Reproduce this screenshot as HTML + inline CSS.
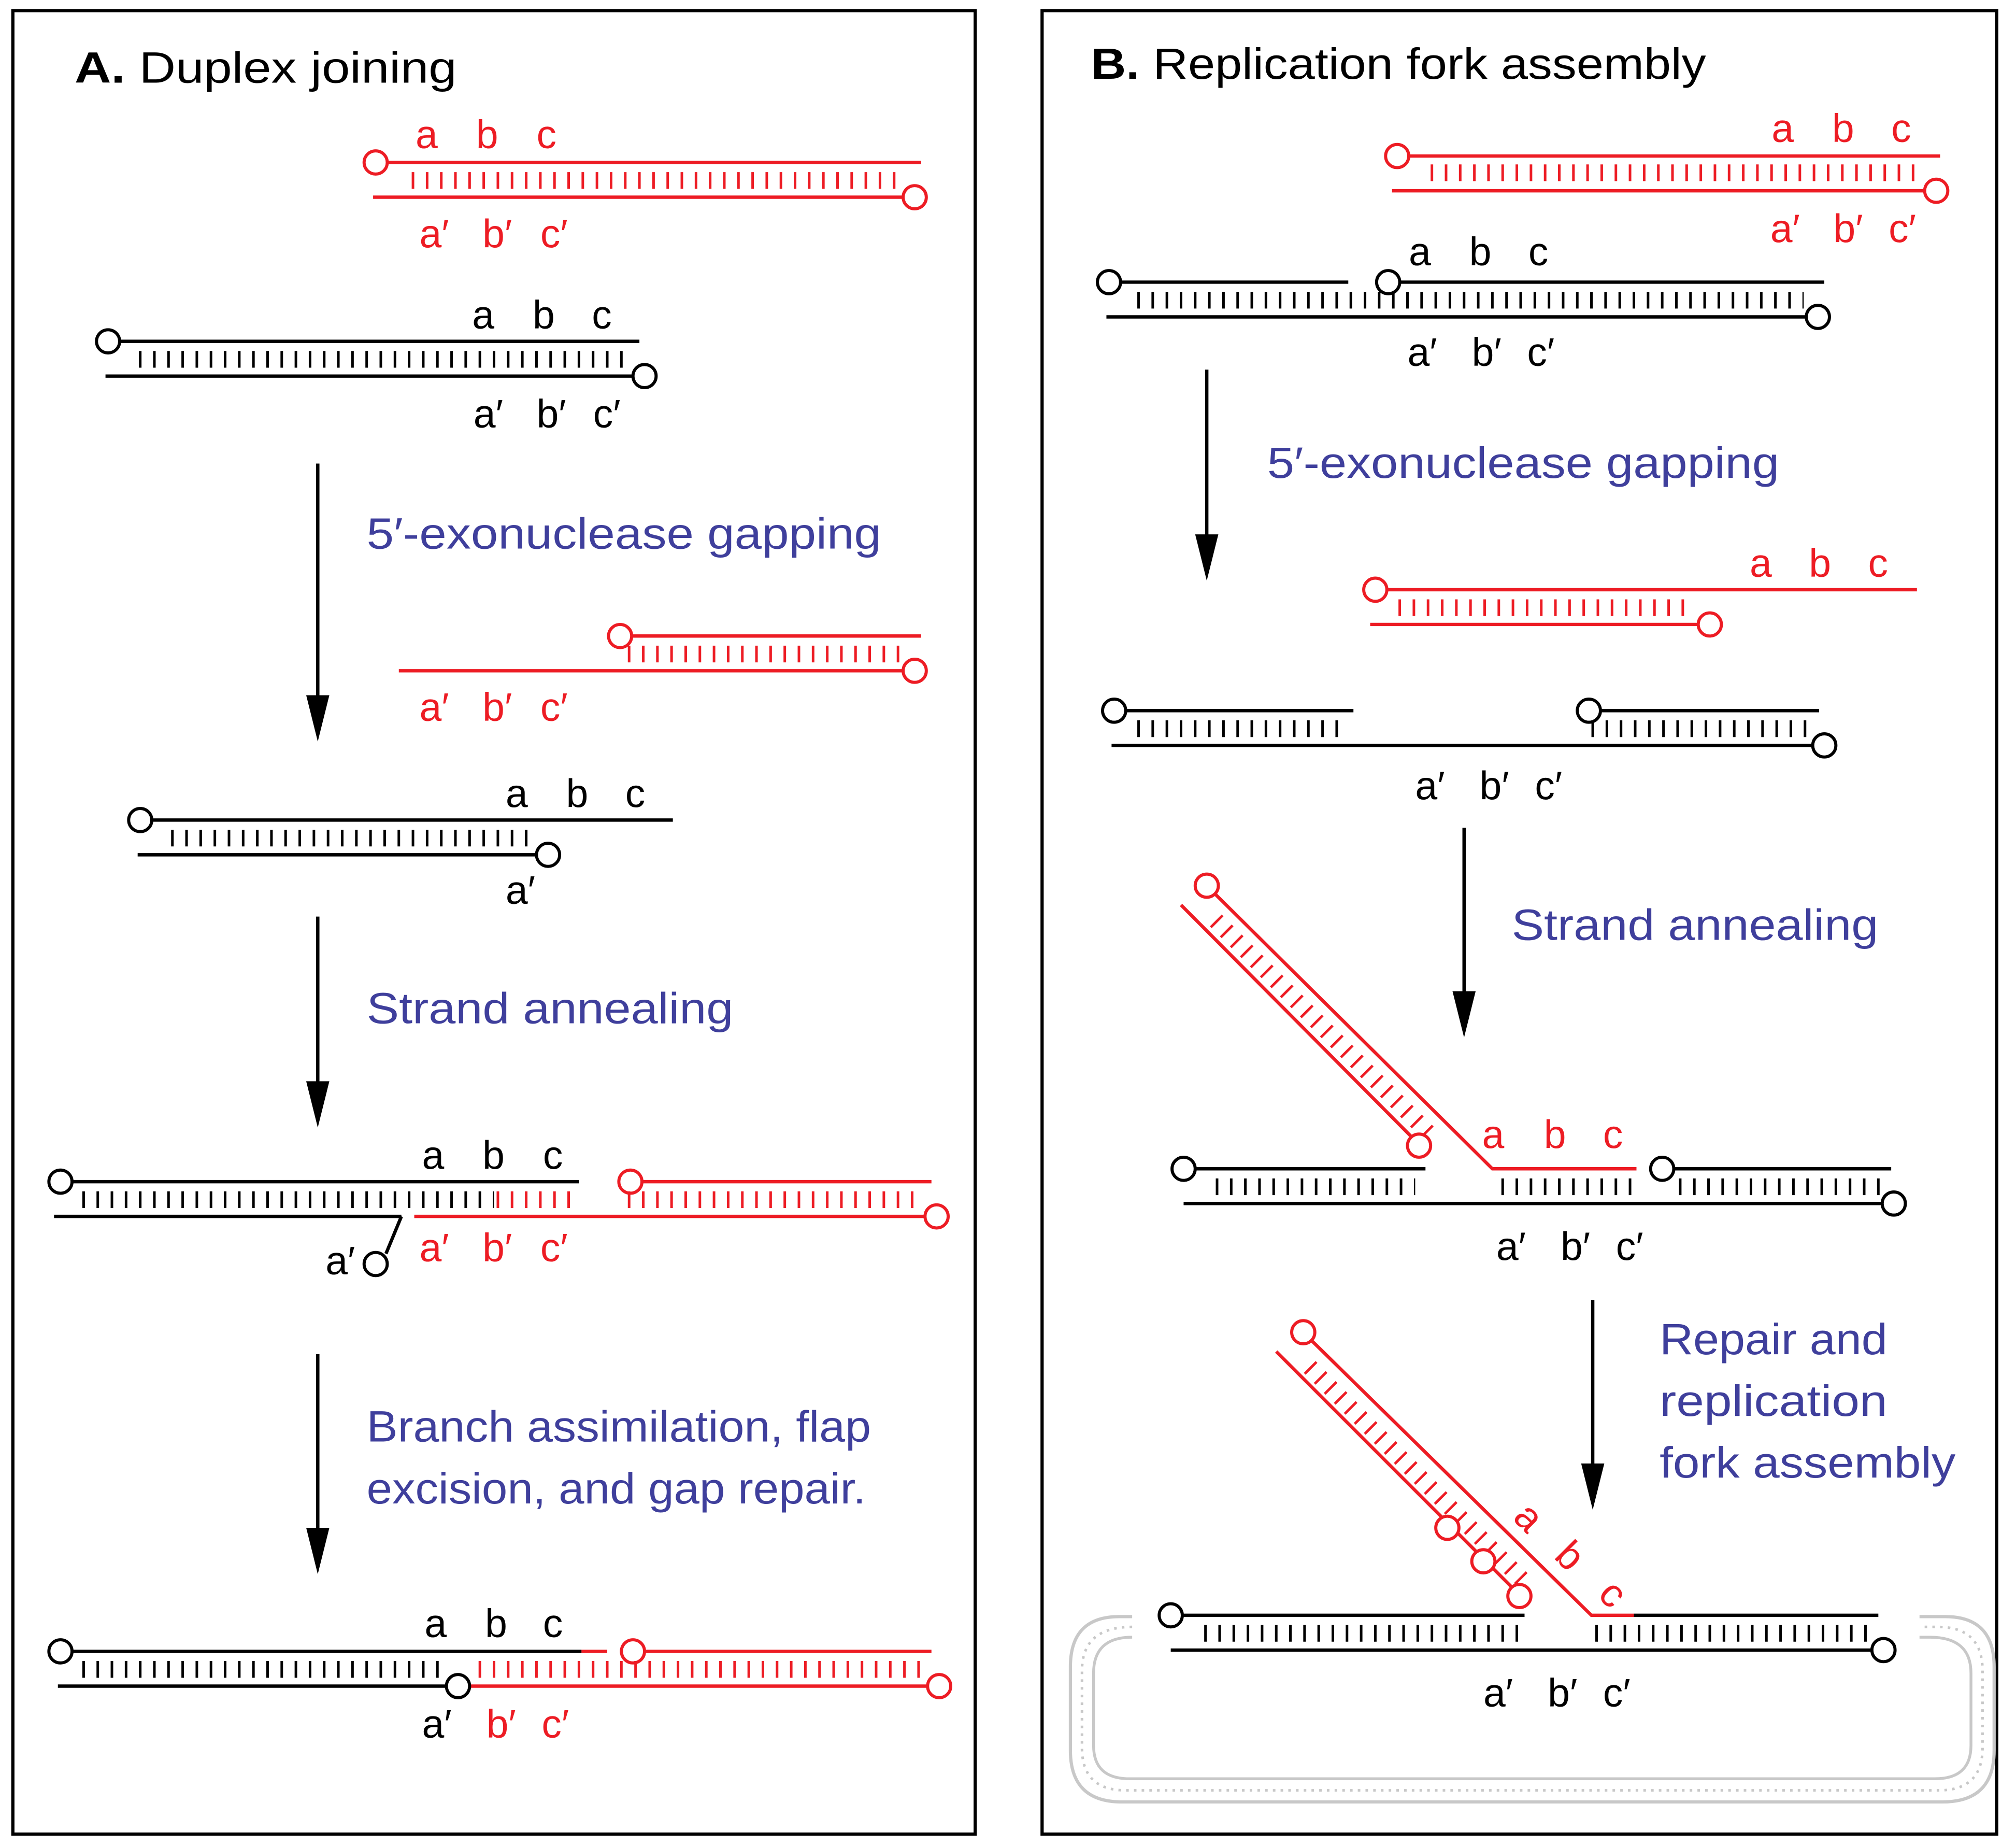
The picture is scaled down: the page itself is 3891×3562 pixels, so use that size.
<!DOCTYPE html>
<html><head><meta charset="utf-8"><style>
html,body{margin:0;padding:0;background:#fff;}
svg{display:block}
text{font-family:"Liberation Sans",sans-serif;}
.r{stroke:#ed1c24;fill:none;stroke-width:2.6}
.k{stroke:#000;fill:none;stroke-width:2.6}
.rc{stroke:#ed1c24;fill:#fff;stroke-width:2.4}
.kc{stroke:#000;fill:#fff;stroke-width:2.4}
.tr{stroke:#ed1c24;stroke-width:13;stroke-dasharray:2 9;fill:none}
.tk{stroke:#000;stroke-width:13;stroke-dasharray:2 9;fill:none}
.lr{fill:#ed1c24;font-size:31px}
.lk{fill:#000;font-size:31px}
.bl{fill:#3f3f9c;font-size:34px}
</style></head><body>
<svg width="3891" height="3562" viewBox="0 0 1567 1434" xmlns="http://www.w3.org/2000/svg">
<rect x="0" y="0" width="1567" height="1434" fill="#fff"/>
<rect x="10" y="8" width="748" height="1417" fill="none" stroke="#000" stroke-width="2.5"/>
<rect x="810" y="8" width="742" height="1417" fill="none" stroke="#000" stroke-width="2.5"/>

<!-- PANEL A -->
<text x="58" y="64" font-size="34" textLength="297" lengthAdjust="spacingAndGlyphs"><tspan font-weight="bold">A.</tspan> Duplex joining</text>

<line class="r" x1="300" y1="126" x2="716" y2="126"/>
<line class="r" x1="290" y1="153" x2="702" y2="153"/>
<line class="tr" x1="320" y1="140" x2="700" y2="140"/>
<circle class="rc" cx="292" cy="126" r="9"/><circle class="rc" cx="711" cy="153" r="9"/>
<text class="lr" x="323" y="115">a</text><text class="lr" x="370" y="115">b</text><text class="lr" x="417" y="115">c</text>
<text class="lr" x="326" y="192">a′</text><text class="lr" x="375" y="192">b′</text><text class="lr" x="420" y="192">c′</text>

<line class="k" x1="92" y1="265" x2="497" y2="265"/>
<line class="k" x1="82" y1="292" x2="492" y2="292"/>
<line class="tk" x1="108" y1="279" x2="490" y2="279"/>
<circle class="kc" cx="84" cy="265" r="9"/><circle class="kc" cx="501" cy="292" r="9"/>
<text class="lk" x="367" y="255">a</text><text class="lk" x="414" y="255">b</text><text class="lk" x="460" y="255">c</text>
<text class="lk" x="368" y="332">a′</text><text class="lk" x="417" y="332">b′</text><text class="lk" x="461" y="332">c′</text>

<line class="k" x1="247" y1="360" x2="247" y2="545"/><polygon points="238,540 256,540 247,576"/>
<text class="bl" x="285" y="426" textLength="400" lengthAdjust="spacingAndGlyphs">5′-exonuclease gapping</text>

<line class="r" x1="490" y1="494" x2="716" y2="494"/>
<line class="r" x1="310" y1="521" x2="702" y2="521"/>
<line class="tr" x1="488" y1="508" x2="700" y2="508"/>
<circle class="rc" cx="482" cy="494" r="9"/><circle class="rc" cx="711" cy="521" r="9"/>
<text class="lr" x="326" y="560">a′</text><text class="lr" x="375" y="560">b′</text><text class="lr" x="420" y="560">c′</text>

<line class="k" x1="117" y1="637" x2="523" y2="637"/>
<line class="k" x1="107" y1="664" x2="417" y2="664"/>
<line class="tk" x1="133" y1="651" x2="412" y2="651"/>
<circle class="kc" cx="109" cy="637" r="9"/><circle class="kc" cx="426" cy="664" r="9"/>
<text class="lk" x="393" y="627">a</text><text class="lk" x="440" y="627">b</text><text class="lk" x="486" y="627">c</text>
<text class="lk" x="393" y="702">a′</text>

<line class="k" x1="247" y1="712" x2="247" y2="845"/><polygon points="238,840 256,840 247,876"/>
<text class="bl" x="285" y="795" textLength="285" lengthAdjust="spacingAndGlyphs">Strand annealing</text>

<line class="k" x1="56" y1="918" x2="450" y2="918"/>
<line class="k" x1="42" y1="945" x2="312" y2="945"/>
<polyline class="k" points="312,945 300,974"/>
<circle class="kc" cx="47" cy="918" r="9"/><circle class="kc" cx="292" cy="982" r="9"/>
<line class="r" x1="498" y1="918" x2="724" y2="918"/>
<line class="r" x1="322" y1="945" x2="720" y2="945"/>
<circle class="rc" cx="490" cy="918" r="9"/><circle class="rc" cx="728" cy="945" r="9"/>
<line class="tk" x1="64" y1="932" x2="384" y2="932"/>
<line class="tr" x1="386" y1="932" x2="446" y2="932"/>
<line class="tr" x1="488" y1="932" x2="716" y2="932"/>
<text class="lk" x="328" y="908">a</text><text class="lk" x="375" y="908">b</text><text class="lk" x="422" y="908">c</text>
<text class="lk" x="253" y="990">a′</text>
<text class="lr" x="326" y="980">a′</text><text class="lr" x="375" y="980">b′</text><text class="lr" x="420" y="980">c′</text>

<line class="k" x1="247" y1="1052" x2="247" y2="1192"/><polygon points="238,1187 256,1187 247,1223"/>
<text class="bl" x="285" y="1120" textLength="392" lengthAdjust="spacingAndGlyphs">Branch assimilation, flap</text>
<text class="bl" x="285" y="1168" textLength="388" lengthAdjust="spacingAndGlyphs">excision, and gap repair.</text>

<line class="k" x1="56" y1="1283" x2="452" y2="1283"/>
<line class="r" x1="452" y1="1283" x2="472" y2="1283"/>
<line class="r" x1="500" y1="1283" x2="724" y2="1283"/>
<circle class="kc" cx="47" cy="1283" r="9"/><circle class="rc" cx="492" cy="1283" r="9"/>
<line class="k" x1="45" y1="1310" x2="347" y2="1310"/>
<line class="r" x1="365" y1="1310" x2="720" y2="1310"/>
<circle class="kc" cx="356" cy="1310" r="9"/><circle class="rc" cx="730" cy="1310" r="9"/>
<line class="tk" x1="64" y1="1297" x2="345" y2="1297"/>
<line class="tr" x1="372" y1="1297" x2="716" y2="1297"/>
<text class="lk" x="330" y="1272">a</text><text class="lk" x="377" y="1272">b</text><text class="lk" x="422" y="1272">c</text>
<text class="lk" x="328" y="1350">a′</text><text class="lr" x="378" y="1350">b′</text><text class="lr" x="421" y="1350">c′</text>

<!-- PANEL B -->
<text x="848" y="61" font-size="34" textLength="478" lengthAdjust="spacingAndGlyphs"><tspan font-weight="bold">B.</tspan> Replication fork assembly</text>

<line class="r" x1="1094" y1="121" x2="1508" y2="121"/>
<line class="r" x1="1082" y1="148" x2="1496" y2="148"/>
<line class="tr" x1="1112" y1="134" x2="1490" y2="134"/>
<circle class="rc" cx="1086" cy="121" r="9"/><circle class="rc" cx="1505" cy="148" r="9"/>
<text class="lr" x="1377" y="110">a</text><text class="lr" x="1424" y="110">b</text><text class="lr" x="1470" y="110">c</text>
<text class="lr" x="1376" y="188">a′</text><text class="lr" x="1425" y="188">b′</text><text class="lr" x="1468" y="188">c′</text>

<line class="k" x1="870" y1="219" x2="1048" y2="219"/>
<line class="k" x1="1088" y1="219" x2="1418" y2="219"/>
<line class="k" x1="860" y1="246" x2="1405" y2="246"/>
<line class="tk" x1="884" y1="233" x2="1402" y2="233"/>
<circle class="kc" cx="862" cy="219" r="9"/><circle class="kc" cx="1079" cy="219" r="9"/><circle class="kc" cx="1413" cy="246" r="9"/>
<text class="lk" x="1095" y="206">a</text><text class="lk" x="1142" y="206">b</text><text class="lk" x="1188" y="206">c</text>
<text class="lk" x="1094" y="284">a′</text><text class="lk" x="1144" y="284">b′</text><text class="lk" x="1187" y="284">c′</text>

<line class="k" x1="938" y1="287" x2="938" y2="420"/><polygon points="929,415 947,415 938,451"/>
<text class="bl" x="985" y="371" textLength="398" lengthAdjust="spacingAndGlyphs">5′-exonuclease gapping</text>

<line class="r" x1="1077" y1="458" x2="1490" y2="458"/>
<line class="r" x1="1065" y1="485" x2="1320" y2="485"/>
<line class="tr" x1="1087" y1="472" x2="1316" y2="472"/>
<circle class="rc" cx="1069" cy="458" r="9"/><circle class="rc" cx="1329" cy="485" r="9"/>
<text class="lr" x="1360" y="448">a</text><text class="lr" x="1406" y="448">b</text><text class="lr" x="1452" y="448">c</text>

<line class="k" x1="873" y1="552" x2="1052" y2="552"/>
<line class="k" x1="1243" y1="552" x2="1414" y2="552"/>
<line class="k" x1="864" y1="579" x2="1408" y2="579"/>
<circle class="kc" cx="866" cy="552" r="9"/><circle class="kc" cx="1235" cy="552" r="9"/><circle class="kc" cx="1418" cy="579" r="9"/>
<line class="tk" x1="884" y1="566" x2="1046" y2="566"/>
<line class="tk" x1="1237" y1="566" x2="1410" y2="566"/>
<text class="lk" x="1100" y="621">a′</text><text class="lk" x="1150" y="621">b′</text><text class="lk" x="1193" y="621">c′</text>

<line class="k" x1="1138" y1="643" x2="1138" y2="775"/><polygon points="1129,770 1147,770 1138,806"/>
<text class="bl" x="1175" y="730" textLength="285" lengthAdjust="spacingAndGlyphs">Strand annealing</text>

<polyline class="r" points="944,694 1160,908 1272,908"/>
<line class="r" x1="918" y1="703" x2="1097" y2="883"/>
<line class="tr" x1="945" y1="715" x2="1110" y2="880"/>
<circle class="rc" cx="938" cy="688" r="9"/><circle class="rc" cx="1103" cy="890" r="9"/>
<line class="k" x1="928" y1="908" x2="1108" y2="908"/>
<line class="k" x1="1300" y1="908" x2="1470" y2="908"/>
<line class="k" x1="920" y1="935" x2="1465" y2="935"/>
<circle class="kc" cx="920" cy="908" r="9"/><circle class="kc" cx="1292" cy="908" r="9"/><circle class="kc" cx="1472" cy="935" r="9"/>
<line class="tk" x1="945" y1="922" x2="1100" y2="922"/>
<line class="tk" x1="1167" y1="922" x2="1268" y2="922"/>
<line class="tk" x1="1305" y1="922" x2="1466" y2="922"/>
<text class="lr" x="1152" y="892">a</text><text class="lr" x="1200" y="892">b</text><text class="lr" x="1246" y="892">c</text>
<text class="lk" x="1163" y="979">a′</text><text class="lk" x="1213" y="979">b′</text><text class="lk" x="1256" y="979">c′</text>

<line class="k" x1="1238" y1="1010" x2="1238" y2="1142"/><polygon points="1229,1137 1247,1137 1238,1173"/>
<text class="bl" x="1290" y="1052" textLength="177" lengthAdjust="spacingAndGlyphs">Repair and</text>
<text class="bl" x="1290" y="1100" textLength="177" lengthAdjust="spacingAndGlyphs">replication</text>
<text class="bl" x="1290" y="1148" textLength="230" lengthAdjust="spacingAndGlyphs">fork assembly</text>

<polyline class="r" points="1019,1041 1237,1255 1270,1255"/>
<line class="r" x1="992" y1="1050" x2="1175" y2="1233"/>
<line class="tr" x1="1018" y1="1062" x2="1186" y2="1230"/>
<circle class="rc" cx="1013" cy="1035" r="9"/>
<circle class="rc" cx="1125" cy="1187" r="9"/><circle class="rc" cx="1153" cy="1213" r="9"/><circle class="rc" cx="1181" cy="1240" r="9"/>
<text class="lr" transform="translate(1175,1180) rotate(45)">a</text>
<text class="lr" transform="translate(1207,1210) rotate(45)">b</text>
<text class="lr" transform="translate(1241,1240) rotate(45)">c</text>
<line class="k" x1="918" y1="1255" x2="1185" y2="1255"/>
<line class="k" x1="1270" y1="1255" x2="1460" y2="1255"/>
<line class="k" x1="910" y1="1282" x2="1455" y2="1282"/>
<circle class="kc" cx="910" cy="1255" r="9"/><circle class="kc" cx="1464" cy="1282" r="9"/>
<line class="tk" x1="936" y1="1269" x2="1182" y2="1269"/>
<line class="tk" x1="1240" y1="1269" x2="1456" y2="1269"/>
<text class="lk" x="1153" y="1326">a′</text><text class="lk" x="1203" y="1326">b′</text><text class="lk" x="1246" y="1326">c′</text>

<path d="M880,1256 L870,1256 Q832,1256 832,1295 L832,1360 Q832,1400 872,1400 L1510,1400 Q1550,1400 1550,1360 L1550,1295 Q1550,1256 1512,1256 L1492,1256" fill="none" stroke="#c8c8c8" stroke-width="2.5"/>
<path d="M880,1272 Q850,1272 850,1300 L850,1356 Q850,1382 878,1382 L1504,1382 Q1532,1382 1532,1356 L1532,1300 Q1532,1272 1500,1272 L1492,1272" fill="none" stroke="#c8c8c8" stroke-width="2.2"/>
<path d="M880,1264 Q841,1264 841,1298 L841,1358 Q841,1391 875,1391 L1507,1391 Q1541,1391 1541,1358 L1541,1298 Q1541,1264 1506,1264 L1492,1264" fill="none" stroke="#c8c8c8" stroke-width="2" stroke-dasharray="2 4"/>
</svg>
</body></html>
